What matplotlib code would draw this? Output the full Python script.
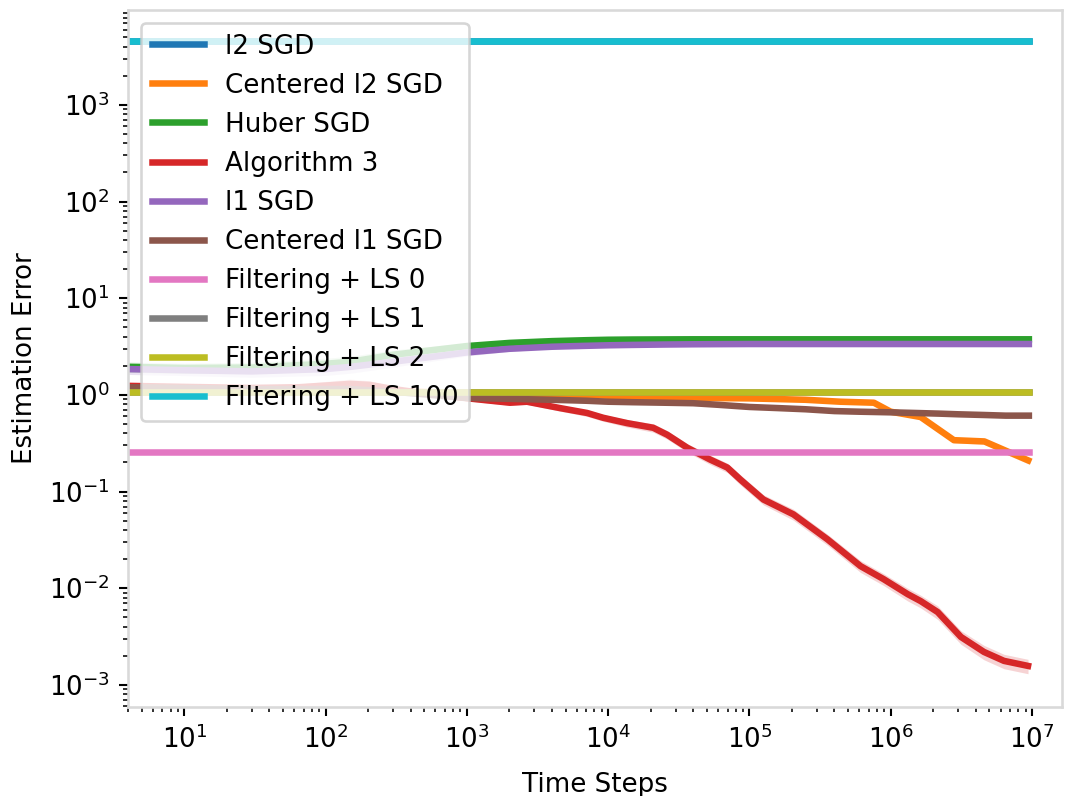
import numpy as np
import matplotlib
matplotlib.use("Agg")
import matplotlib.pyplot as plt

steps = [4, 10, 30, 100, 150, 300, 1e3, 2e3, 4e3, 7e3, 1e4, 1.5e4, 2.5e4, 4e4, 6e4,
         1e5, 1.6e5, 2.5e5, 4e5, 6e5, 1e6, 1.5e6, 2.2e6, 3e6, 4.5e6, 6.5e6, 9.5e6]

l2_sgd = [4600] * len(steps)
huber = [1.95, 1.9, 1.92, 2.1, 2.2, 2.6, 3.2, 3.45, 3.6, 3.68, 3.72, 3.74, 3.75, 3.76, 3.76,
         3.76, 3.76, 3.76, 3.76, 3.76, 3.76, 3.76, 3.76, 3.76, 3.76, 3.76, 3.76]
l1_sgd = [1.85, 1.8, 1.75, 1.85, 1.95, 2.2, 2.75, 3.0, 3.15, 3.22, 3.26, 3.29, 3.32, 3.34, 3.35,
          3.36, 3.36, 3.36, 3.36, 3.36, 3.36, 3.36, 3.36, 3.36, 3.36, 3.36, 3.36]
centered_l1 = [1.2, 1.18, 1.15, 1.15, 1.15, 1.08, 0.93, 0.91, 0.89, 0.87, 0.85, 0.84, 0.83, 0.82, 0.79,
               0.75, 0.73, 0.71, 0.68, 0.67, 0.66, 0.65, 0.64, 0.63, 0.62, 0.61, 0.61]
filt_ls0 = [0.258] * len(steps)
filt_ls1 = [1.06] * len(steps)
filt_ls2 = [1.07] * len(steps)
filt_ls100 = [4600] * len(steps)

# the two wigglier curves have their own read-off points
steps_centered_l2 = [4, 10, 100, 1e3, 4e3, 1e4, 2e4, 1e5, 2.5e5, 4.4e5, 7.6e5, 1e6, 1.63e6,
                     2.8e6, 4.6e6, 6.7e6, 9.4e6]
centered_l2 = [1.18, 1.15, 1.12, 1.05, 1.02, 0.98, 0.94, 0.92, 0.89, 0.85, 0.83, 0.67, 0.59,
               0.34, 0.33, 0.26, 0.21]

steps_algo3 = [4, 10, 30, 65, 100, 149, 205, 300, 545, 1104, 2018, 2666, 4571, 7100, 9220,
               13650, 20850, 26200, 36300, 52800, 69800, 86300, 125600, 205000, 357000, 612000,
               891000, 1.32e6, 1.63e6, 2.15e6, 3.14e6, 4.57e6, 6.33e6, 9.37e6]
algo3 = [1.24, 1.21, 1.18, 1.2, 1.25, 1.3, 1.27, 1.15, 1.02, 0.91, 0.83, 0.85, 0.73, 0.65, 0.58,
         0.51, 0.457, 0.387, 0.284, 0.214, 0.177, 0.133, 0.0827, 0.058, 0.032, 0.0169,
         0.0124, 0.00867, 0.00735, 0.00566, 0.00313, 0.00219, 0.00177, 0.00157]

# relative half-width of the shaded bands
spread_small = [0.02] * len(steps)
spread_early = [0.12, 0.12, 0.13, 0.14, 0.14, 0.12, 0.08, 0.06, 0.04, 0.03, 0.02, 0.02, 0.02, 0.02, 0.02,
                0.02, 0.02, 0.02, 0.02, 0.02, 0.02, 0.02, 0.02, 0.02, 0.02, 0.02, 0.02]
spread_centered_l2 = [0.03, 0.03, 0.03, 0.03, 0.03, 0.03, 0.03, 0.03, 0.03, 0.03, 0.03, 0.04, 0.05,
                      0.06, 0.07, 0.08, 0.08]
spread_algo3 = [0.06, 0.06, 0.07, 0.08, 0.1, 0.12, 0.1, 0.08, 0.07, 0.06, 0.06, 0.06, 0.07, 0.08, 0.08,
                0.09, 0.1, 0.1, 0.1, 0.11, 0.11, 0.12, 0.12, 0.13, 0.13, 0.14, 0.14, 0.15, 0.15,
                0.16, 0.16, 0.17, 0.17, 0.17]

labels = ["l2 SGD", "Centered l2 SGD", "Huber SGD", "Algorithm 3", "l1 SGD", "Centered l1 SGD",
          "Filtering + LS 0", "Filtering + LS 1", "Filtering + LS 2", "Filtering + LS 100"]
xs = [steps, steps_centered_l2, steps, steps_algo3, steps, steps, steps, steps, steps, steps]
series = [l2_sgd, centered_l2, huber, algo3, l1_sgd, centered_l1, filt_ls0, filt_ls1, filt_ls2, filt_ls100]
spreads = [spread_small, spread_centered_l2, spread_early, spread_algo3, spread_early, spread_small,
           spread_small, spread_small, spread_small, spread_small]

dpi = 188
fig = plt.figure(figsize=(1066 / dpi, 796 / dpi), dpi=dpi)
ax = fig.add_axes([128 / 1066, 1 - 707 / 796, 934 / 1066, 697 / 796])

for lab, xv, vals, sp in zip(labels, xs, series, spreads):
    x = np.array(xv)
    y = np.array(vals)
    s = np.array(sp)
    line, = ax.plot(x, y, lw=2.5, label=lab)
    ax.fill_between(x, y * (1 - s), y * (1 + s), color=line.get_color(), alpha=0.2, lw=0)

ax.set_xscale("log")
ax.set_yscale("log")
ax.set_xlim(4, 1.63e7)
ax.set_ylim(5.9e-4, 9.6e3)
ax.set_xlabel("Time Steps", labelpad=7)
ax.set_ylabel("Estimation Error")

for sp in ax.spines.values():
    sp.set_color("#d9d9d9")
    sp.set_linewidth(1.0)

ax.legend(loc="upper left")

fig.savefig("out.png", dpi=dpi)
